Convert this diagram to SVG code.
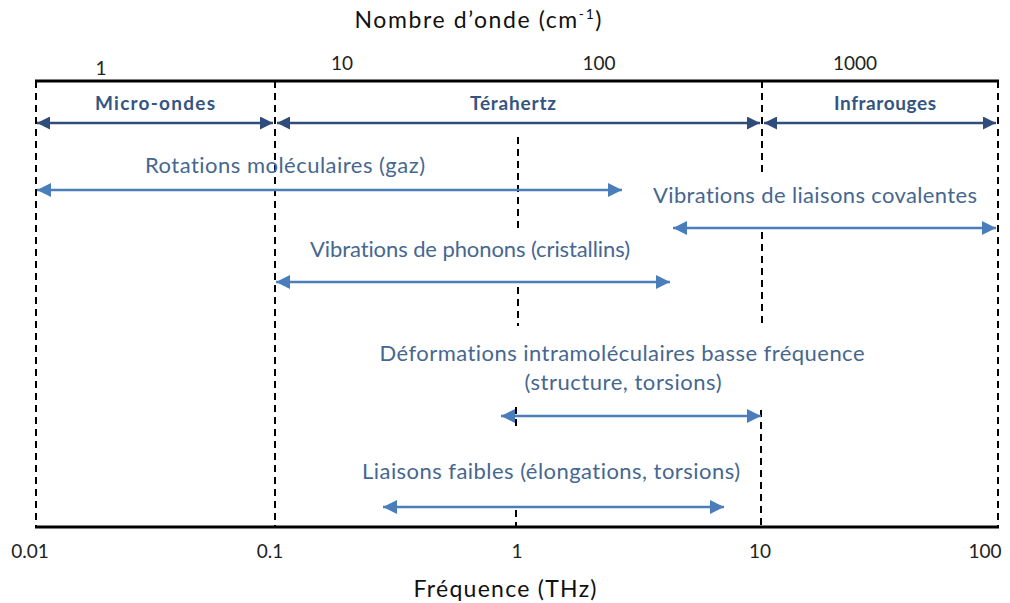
<svg xmlns="http://www.w3.org/2000/svg" width="1010" height="603" viewBox="0 0 1010 603">
<defs>
<marker id="hd" viewBox="0 0 10 10" refX="10" refY="5" markerUnits="userSpaceOnUse" markerWidth="15" markerHeight="13" orient="auto-start-reverse"><path d="M0,0 L10,5 L0,10 z" fill="#2F4C7A"/></marker>
<marker id="hl" viewBox="0 0 10 10" refX="10" refY="5" markerUnits="userSpaceOnUse" markerWidth="16" markerHeight="14" orient="auto-start-reverse"><path d="M0,0 L10,5 L0,10 z" fill="#4A7EBB"/></marker>
<style>
.ax{stroke:#000;stroke-width:3;fill:none}
.ds{stroke:#000;stroke-width:2;stroke-dasharray:7,5;fill:none}
.ad{stroke:#2F4C7A;stroke-width:2.5;marker-start:url(#hd);marker-end:url(#hd)}
.al{stroke:#4A7EBB;stroke-width:2.5;marker-start:url(#hl);marker-end:url(#hl)}
.t{font-family:Lato,"Open Sans","Liberation Sans",sans-serif;font-variant-ligatures:none}
.num{font-size:19px;fill:#222}
.tit{font-size:23px;fill:#111}
.band{font-size:19px;font-weight:bold;fill:#34557F}
.lab{font-size:22px;fill:#46678F}
</style>
</defs>
<rect width="1010" height="603" fill="#fff"/>
<g id="axes">
<line class="ax" x1="35" y1="81" x2="999" y2="81"/>
<line class="ax" x1="35" y1="527" x2="999" y2="527"/>
</g>
<g id="gridlines">
<line class="ds" x1="36" y1="81" x2="36" y2="527"/>
<line class="ds" x1="275" y1="81" x2="275" y2="527"/>
<line class="ds" x1="998" y1="81" x2="998" y2="527"/>
<line class="ds" x1="762" y1="81" x2="762" y2="173"/>
<line class="ds" x1="762" y1="232" x2="762" y2="325"/>
<line class="ds" x1="761" y1="410" x2="761" y2="527"/>
<line class="ds" x1="518" y1="137" x2="518" y2="228"/>
<line class="ds" x1="518" y1="287" x2="518" y2="326"/>
<line class="ds" x1="516" y1="407" x2="516" y2="427"/>
<line class="ds" x1="516" y1="510" x2="516" y2="527"/>
</g>
<g id="titles" class="t">
<text class="tit" x="478" y="28" text-anchor="middle" textLength="247">Nombre d’onde (cm<tspan font-size="14" dy="-9">-1</tspan><tspan dy="9">)</tspan></text>
<text class="tit" x="505" y="597" text-anchor="middle" textLength="183">Fréquence (THz)</text>
</g>
<g id="top-ticks" class="t num" text-anchor="middle">
<text x="101" y="75">1</text>
<text x="342" y="70">10</text>
<text x="599" y="70">100</text>
<text x="855" y="70">1000</text>
</g>
<g id="bottom-ticks" class="t num" text-anchor="middle">
<text x="30" y="558">0.01</text>
<text x="270" y="558">0.1</text>
<text x="517" y="558">1</text>
<text x="760" y="558">10</text>
<text x="985" y="558">100</text>
</g>
<g id="micro-ondes">
<text class="t band" x="155" y="110" text-anchor="middle" textLength="120">Micro-ondes</text>
<line class="ad" x1="37" y1="123" x2="273" y2="123"/>
</g>
<g id="terahertz">
<text class="t band" x="513" y="110" text-anchor="middle" textLength="86">Térahertz</text>
<line class="ad" x1="277" y1="123" x2="760" y2="123"/>
</g>
<g id="infrarouges">
<text class="t band" x="885" y="110" text-anchor="middle" textLength="102">Infrarouges</text>
<line class="ad" x1="764" y1="123" x2="996" y2="123"/>
</g>
<g id="rotations">
<text class="t lab" x="285" y="173" text-anchor="middle" textLength="280">Rotations moléculaires (gaz)</text>
<line class="al" x1="37" y1="190" x2="622" y2="190"/>
</g>
<g id="covalentes">
<text class="t lab" x="815" y="203" text-anchor="middle" textLength="324">Vibrations de liaisons covalentes</text>
<line class="al" x1="673" y1="228" x2="996" y2="228"/>
</g>
<g id="phonons">
<text class="t lab" x="470" y="257" text-anchor="middle" textLength="320">Vibrations de phonons (cristallins)</text>
<line class="al" x1="276" y1="282" x2="670" y2="282"/>
</g>
<g id="deformations">
<text class="t lab" x="622" y="361" text-anchor="middle" textLength="485">Déformations intramoléculaires basse fréquence</text>
<text class="t lab" x="623" y="390" text-anchor="middle" textLength="197">(structure, torsions)</text>
<line class="al" x1="501" y1="416" x2="761" y2="416"/>
</g>
<g id="liaisons-faibles">
<text class="t lab" x="551" y="479" text-anchor="middle" textLength="378">Liaisons faibles (élongations, torsions)</text>
<line class="al" x1="383" y1="507" x2="724" y2="507"/>
</g>
</svg>
